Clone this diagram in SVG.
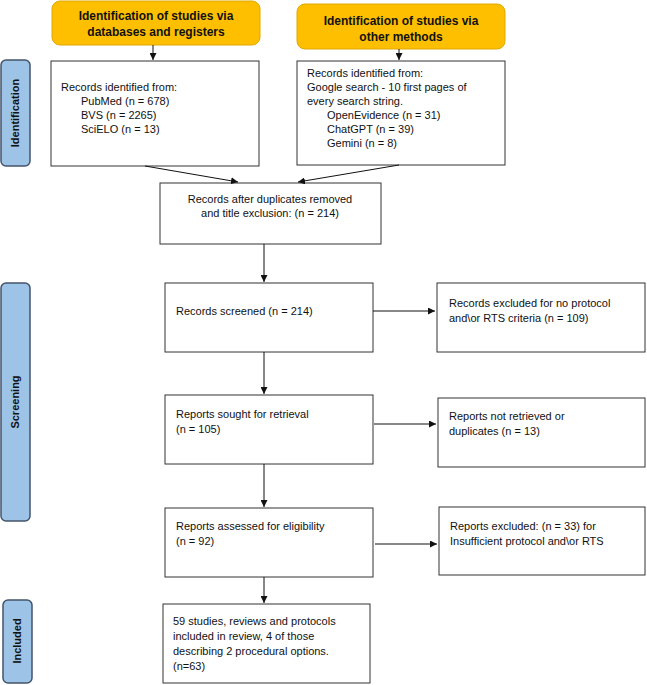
<svg xmlns="http://www.w3.org/2000/svg" width="647" height="685" viewBox="0 0 647 685">
<style>
text{font-family:"Liberation Sans",Arial,sans-serif;font-size:11px;fill:#111}
.b{fill:#fff;stroke:#333;stroke-width:1}
.y{fill:#fdbf00;stroke:#e0a800;stroke-width:1}
.t{fill:#9dc3e6;stroke:#44546a;stroke-width:1.5}
.h{font-weight:bold;font-size:12px;text-anchor:middle}
.v{font-weight:bold;font-size:11px;text-anchor:middle}
.c line{stroke:#111;stroke-width:1;marker-end:url(#a)}
</style>
<defs><marker id="a" viewBox="0 0 10 10" refX="10" refY="5" markerWidth="7" markerHeight="7" orient="auto"><path d="M0,0L10,5L0,10z" fill="#111"/></marker></defs>
<g id="h1"><rect class="y" x="52" y="1" width="208" height="44" rx="8"/><text class="h" x="156" y="20">Identification of studies via</text><text class="h" x="156" y="36">databases and registers</text></g>
<g id="h2"><rect class="y" x="297" y="4" width="208" height="45" rx="8"/><text class="h" x="401" y="25">Identification of studies via</text><text class="h" x="401" y="41">other methods</text></g>
<g id="tab1"><rect class="t" x="1" y="60" width="29" height="106" rx="5"/><text class="v" transform="translate(19,113) rotate(-90)">Identification</text></g>
<g id="tab2"><rect class="t" x="1" y="283" width="29" height="238" rx="5"/><text class="v" transform="translate(19,402) rotate(-90)">Screening</text></g>
<g id="tab3"><rect class="t" x="3" y="600" width="29" height="83" rx="5"/><text class="v" transform="translate(21,641) rotate(-90)">Included</text></g>
<g id="r1"><rect class="b" x="51" y="61" width="208" height="105"/><text x="61" y="91">Records identified from:</text><text x="81" y="105">PubMed (n = 678)</text><text x="81" y="119">BVS (n = 2265)</text><text x="81" y="133">SciELO (n = 13)</text></g>
<g id="r2"><rect class="b" x="297" y="61" width="208" height="104"/><text x="307" y="77">Records identified from:</text><text x="307" y="91">Google search - 10 first pages of</text><text x="307" y="105">every search string.</text><text x="327" y="119">OpenEvidence (n = 31)</text><text x="327" y="133">ChatGPT (n = 39)</text><text x="327" y="147">Gemini (n = 8)</text></g>
<g id="m"><rect class="b" x="160" y="183" width="221" height="61"/><text x="270" y="203" text-anchor="middle">Records after duplicates removed</text><text x="270" y="217" text-anchor="middle">and title exclusion: (n = 214)</text></g>
<g id="s1"><rect class="b" x="165" y="283" width="208" height="69"/><text x="176" y="315">Records screened (n = 214)</text></g>
<g id="e1"><rect class="b" x="437" y="283" width="208" height="69"/><text x="449" y="307">Records excluded for no protocol</text><text x="449" y="322">and\or RTS criteria (n = 109)</text></g>
<g id="s2"><rect class="b" x="165" y="395" width="208" height="69"/><text x="176" y="418">Reports sought for retrieval</text><text x="176" y="433">(n = 105)</text></g>
<g id="e2"><rect class="b" x="438" y="398" width="207" height="69"/><text x="449" y="420">Reports not retrieved or</text><text x="449" y="435">duplicates (n = 13)</text></g>
<g id="s3"><rect class="b" x="165" y="508" width="208" height="69"/><text x="176" y="530">Reports assessed for eligibility</text><text x="176" y="545">(n = 92)</text></g>
<g id="e3"><rect class="b" x="439" y="507" width="206" height="68"/><text x="450" y="530">Reports excluded: (n = 33) for</text><text x="450" y="545">Insufficient protocol and\or RTS</text></g>
<g id="inc"><rect class="b" x="163" y="604" width="207" height="79"/><text x="173" y="625">59 studies, reviews and protocols</text><text x="173" y="640">included in review, 4 of those</text><text x="173" y="655">describing 2 procedural options.</text><text x="173" y="670">(n=63)</text></g>
<g class="c">
<line x1="153" y1="45" x2="153" y2="60"/>
<line x1="399" y1="49" x2="399" y2="60"/>
<line x1="145" y1="166" x2="238" y2="182"/>
<line x1="399" y1="165" x2="298" y2="182"/>
<line x1="264" y1="244" x2="264" y2="282"/>
<line x1="373" y1="311" x2="435" y2="311"/>
<line x1="264" y1="352" x2="264" y2="394"/>
<line x1="374" y1="404" x2="436" y2="404" transform="translate(0,20)"/>
<line x1="264" y1="464" x2="264" y2="507"/>
<line x1="375" y1="544" x2="437" y2="544"/>
<line x1="264" y1="577" x2="264" y2="603"/>
</g>
</svg>
